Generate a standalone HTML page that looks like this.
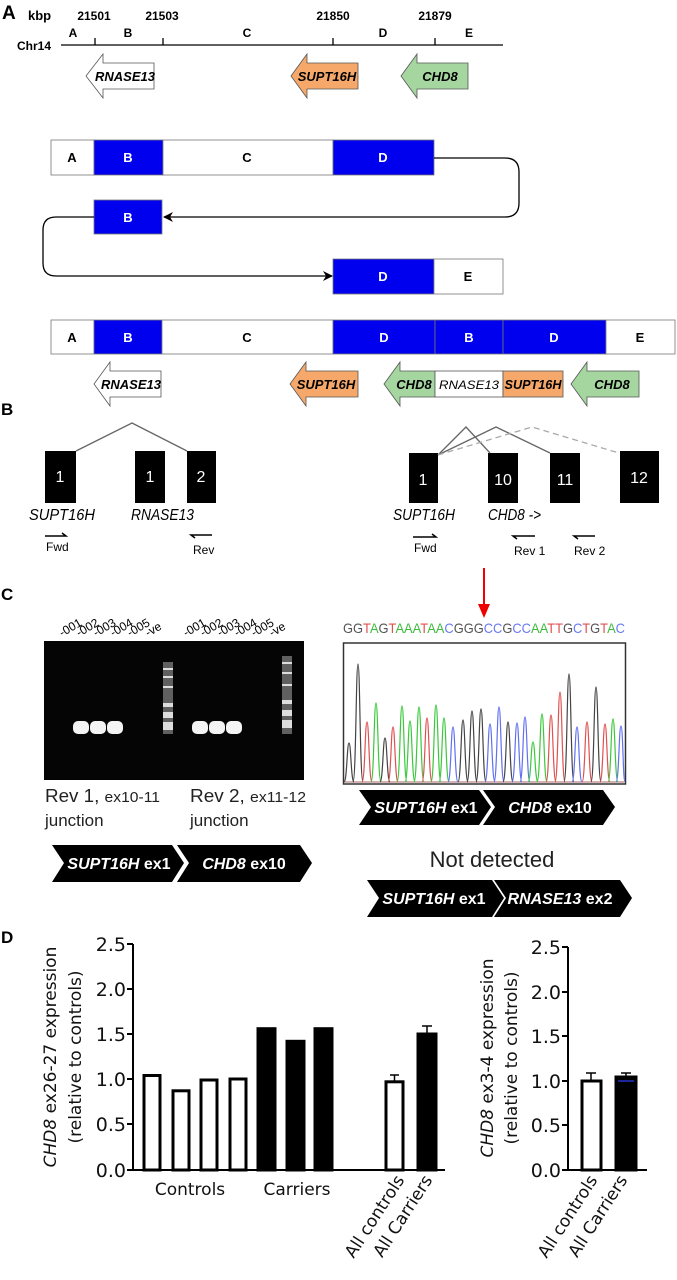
<!DOCTYPE html>
<html><head><meta charset="utf-8"><style>
html,body{margin:0;padding:0;background:#fff}
svg{display:block}
.h{font-family:"Liberation Sans",sans-serif;font-weight:bold}
.n{font-family:"Liberation Sans Narrow","Liberation Sans",sans-serif}
.d{font-family:"DejaVu Sans",sans-serif}
</style></head><body>
<svg width="677" height="1280" viewBox="0 0 677 1280" xmlns="http://www.w3.org/2000/svg">
<defs>
<marker id="ah" markerWidth="10" markerHeight="10" refX="9" refY="5" orient="auto" markerUnits="userSpaceOnUse">
<path d="M0,0 L10,5 L0,10 L3,5 Z" fill="#000"/></marker>
</defs>
<!-- Panel A -->
<text x="2" y="19" class="h" font-size="19">A</text>
<g class="h" font-size="12">
<text x="28" y="20" font-size="13">kbp</text>
<text x="94" y="20" text-anchor="middle">21501</text>
<text x="162" y="20" text-anchor="middle">21503</text>
<text x="333" y="20" text-anchor="middle">21850</text>
<text x="435" y="20" text-anchor="middle">21879</text>
<text x="73" y="37" text-anchor="middle">A</text>
<text x="128" y="37" text-anchor="middle">B</text>
<text x="247" y="37" text-anchor="middle">C</text>
<text x="383" y="37" text-anchor="middle">D</text>
<text x="469" y="37" text-anchor="middle">E</text>
<text x="17" y="50" font-size="12">Chr14</text>
</g>
<g stroke="#000" stroke-width="1.3">
<line x1="61" y1="45" x2="503" y2="45"/>
<line x1="95" y1="38" x2="95" y2="45"/><line x1="163" y1="38" x2="163" y2="45"/>
<line x1="333" y1="38" x2="333" y2="45"/><line x1="435" y1="38" x2="435" y2="45"/>
</g>
<g stroke="#555" stroke-width="0.8">
<polygon points="86,76 103,54 103,63 154,63 154,89 103,89 103,98" fill="#fff"/>
<polygon points="291,76 307,54 307,63 358,63 358,89 307,89 307,98" fill="#f5a86a"/>
<polygon points="401,76 417,54 417,63 468,63 468,89 417,89 417,98" fill="#a5d6a0"/>
</g>
<g class="h" font-size="13" font-style="italic" text-anchor="middle">
<text x="125" y="81">RNASE13</text><text x="327" y="81">SUPT16H</text><text x="440" y="81">CHD8</text>
</g>
<g stroke="#777" stroke-width="0.8">
<rect x="51" y="140" width="43" height="35" fill="#fff"/>
<rect x="94" y="140" width="69" height="35" fill="#0000ee"/>
<rect x="163" y="140" width="170" height="35" fill="#fff"/>
<rect x="333" y="140" width="101" height="35" fill="#0000ee"/>
<rect x="94" y="200" width="68" height="34" fill="#0000ee"/>
<rect x="333" y="259" width="101" height="35" fill="#0000ee"/>
<rect x="434" y="259" width="69" height="35" fill="#fff"/>
<rect x="51" y="320" width="43" height="34" fill="#fff"/>
<rect x="94" y="320" width="68" height="34" fill="#0000ee"/>
<rect x="162" y="320" width="171" height="34" fill="#fff"/>
<rect x="333" y="320" width="102" height="34" fill="#0000ee"/>
<rect x="435" y="320" width="68" height="34" fill="#0000ee"/>
<rect x="503" y="320" width="103" height="34" fill="#0000ee"/>
<rect x="606" y="320" width="69" height="34" fill="#fff"/>
</g>
<g stroke="#000" stroke-width="1.3" fill="none">
<path d="M434,158 H505 Q519,158 519,172 V203 Q519,217 505,217 H164" marker-end="url(#ah)"/>
<path d="M94,217 H56 Q43,217 43,230 V263 Q43,276 56,276 H332" marker-end="url(#ah)"/>
</g>
<g class="h" font-size="13" text-anchor="middle">
<text x="72" y="162">A</text><text x="128" y="162" fill="#fff">B</text><text x="247" y="162">C</text><text x="383" y="162" fill="#fff">D</text>
<text x="128" y="222" fill="#fff">B</text>
<text x="383" y="281" fill="#fff">D</text><text x="468" y="281">E</text>
<text x="72" y="342">A</text><text x="128" y="342" fill="#fff">B</text><text x="247" y="342">C</text><text x="384" y="342" fill="#fff">D</text><text x="469" y="342" fill="#fff">B</text><text x="554" y="342" fill="#fff">D</text><text x="640" y="342">E</text>
</g>
<g stroke="#555" stroke-width="0.8">
<polygon points="94,384 110,362 110,371 161,371 161,397 110,397 110,406" fill="#fff"/>
<polygon points="290,384 306,362 306,371 358,371 358,397 306,397 306,406" fill="#f5a86a"/>
<polygon points="384,384 400,362 400,371 435,371 435,397 400,397 400,406" fill="#a5d6a0"/>
<rect x="435" y="371" width="68" height="26" fill="#fff"/>
<rect x="503" y="371" width="60" height="26" fill="#f5a86a"/>
<polygon points="571,384 587,362 587,371 639,371 639,397 587,397 587,406" fill="#a5d6a0"/>
</g>
<g class="h" font-size="13" font-style="italic" text-anchor="middle">
<text x="131" y="389">RNASE13</text><text x="326" y="389">SUPT16H</text><text x="414" y="389">CHD8</text>
<text x="469" y="389" font-weight="normal" font-size="12" textLength="60" lengthAdjust="spacingAndGlyphs">RNASE13</text><text x="533" y="389" textLength="57" lengthAdjust="spacingAndGlyphs">SUPT16H</text><text x="612" y="389">CHD8</text>
</g>
<!-- Panel B -->
<text x="1" y="415" class="h" font-size="17">B</text>
<g fill="#000">
<rect x="45" y="451" width="31" height="52"/><rect x="135" y="451" width="30" height="52"/><rect x="187" y="451" width="29" height="52"/>
<rect x="409" y="453" width="29" height="50"/><rect x="488" y="453" width="30" height="50"/><rect x="550" y="453" width="30" height="50"/><rect x="620" y="451" width="39" height="52"/>
</g>
<g stroke="#666" stroke-width="1.3" fill="none">
<path d="M76,451 L132,423 L187,451"/>
<path d="M438,455 L466,427 L490,453"/>
<path d="M438,455 L496,427 L550,453"/>
<path d="M438,455 L532,427 L619,453" stroke="#aaa" stroke-dasharray="6,4"/>
</g>
<g class="n" fill="#fff" font-size="16" text-anchor="middle">
<text x="60" y="482">1</text><text x="150" y="482">1</text><text x="201" y="482">2</text>
<text x="423" y="485">1</text><text x="503" y="485">10</text><text x="565" y="485">11</text><text x="639" y="483">12</text>
</g>
<g class="n" font-size="16" font-style="italic" lengthAdjust="spacingAndGlyphs">
<text x="29" y="520" textLength="66" lengthAdjust="spacingAndGlyphs">SUPT16H</text><text x="131" y="520" textLength="63" lengthAdjust="spacingAndGlyphs">RNASE13</text>
<text x="393" y="520" textLength="62" lengthAdjust="spacingAndGlyphs">SUPT16H</text><text x="488" y="520" textLength="53" lengthAdjust="spacingAndGlyphs">CHD8 -&gt;</text>
</g>
<g stroke="#000" stroke-width="1.5" fill="none">
<path d="M45,536 H66 L62,533"/><path d="M212,535 H191 L195,538"/>
<path d="M413,537 H436 L432,534"/><path d="M535,536 H513 L517,539"/><path d="M595,536 H574 L578,539"/>
</g>
<g class="n" font-size="12">
<text x="46" y="551">Fwd</text><text x="193" y="554">Rev</text>
<text x="414" y="552">Fwd</text><text x="514" y="555">Rev 1</text><text x="574" y="555">Rev 2</text>
</g>
<!-- Panel C -->
<text x="1" y="600" class="h" font-size="17">C</text>
<rect x="44" y="641" width="260" height="139" fill="#050505"/>
<g fill="#f4f4f4">
<rect x="73" y="721" width="16" height="13" rx="5"/><rect x="90" y="721" width="16" height="13" rx="5"/><rect x="107" y="721" width="16" height="13" rx="5"/>
<rect x="192" y="721" width="16" height="13" rx="5"/><rect x="209" y="721" width="16" height="13" rx="5"/><rect x="226" y="721" width="16" height="13" rx="5"/>
</g>
<g fill="#888" opacity="0.7">
<rect x="163" y="662" width="10" height="72"/><rect x="282" y="656" width="10" height="78"/>
</g>
<g fill="#ddd">
<rect x="163" y="668" width="10" height="2"/><rect x="163" y="676" width="10" height="2"/><rect x="163" y="686" width="10" height="2"/><rect x="163" y="703" width="10" height="4"/><rect x="163" y="712" width="10" height="6"/><rect x="163" y="722" width="10" height="8"/>
<rect x="282" y="662" width="10" height="2"/><rect x="282" y="672" width="10" height="2"/><rect x="282" y="684" width="10" height="2"/><rect x="282" y="700" width="10" height="4"/><rect x="282" y="710" width="10" height="6"/><rect x="282" y="720" width="10" height="8"/>
</g>
<g class="n" font-size="12">
<text transform="translate(62,637) rotate(-30)">-001</text><text transform="translate(79,637) rotate(-30)">-002</text><text transform="translate(96,637) rotate(-30)">-003</text><text transform="translate(113,637) rotate(-30)">-004</text><text transform="translate(130,637) rotate(-30)">-005</text><text transform="translate(148,637) rotate(-30)">-ve</text>
<text transform="translate(186,637) rotate(-30)">-001</text><text transform="translate(203,637) rotate(-30)">-002</text><text transform="translate(220,637) rotate(-30)">-003</text><text transform="translate(237,637) rotate(-30)">-004</text><text transform="translate(254,637) rotate(-30)">-005</text><text transform="translate(272,637) rotate(-30)">-ve</text>
</g>
<g class="n" font-size="18" fill="#222">
<text x="45" y="802" textLength="115" lengthAdjust="spacingAndGlyphs">Rev 1, <tspan font-size="15">ex10-11</tspan></text>
<text x="190" y="802" textLength="116" lengthAdjust="spacingAndGlyphs">Rev 2, <tspan font-size="15">ex11-12</tspan></text>
<text x="45" y="826" font-size="17">junction</text><text x="190" y="826" font-size="17">junction</text>
</g>
<g fill="#000">
<polygon points="52,845 172,845 184,863 172,882 52,882 64,863"/>
<polygon points="177,845 300,845 312,863 300,882 177,882 189,863"/>
<polygon points="359,790 479,790 491,807 479,825 359,825 371,807"/>
<polygon points="483,790 603,790 615,807 603,825 483,825 495,807"/>
<polygon points="367,880 492,880 504,898 492,917 367,917 379,898"/>
<polygon points="494,880 620,880 632,898 620,917 494,917 506,898"/>
</g>
<g class="n" fill="#fff" font-size="16" font-weight="bold" font-style="italic" text-anchor="middle">
<text x="119" y="869">SUPT16H <tspan font-style="normal">ex1</tspan></text>
<text x="244" y="869">CHD8 <tspan font-style="normal">ex10</tspan></text>
<text x="426" y="813">SUPT16H <tspan font-style="normal">ex1</tspan></text>
<text x="550" y="813">CHD8 <tspan font-style="normal">ex10</tspan></text>
<text x="434" y="904">SUPT16H <tspan font-style="normal">ex1</tspan></text>
<text x="560" y="904">RNASE13 <tspan font-style="normal">ex2</tspan></text>
</g>
<text x="492" y="867" class="n" font-size="22" text-anchor="middle" fill="#222">Not detected</text>
<line x1="484" y1="568" x2="484" y2="606" stroke="#e00" stroke-width="2"/>
<polygon points="478,604 490,604 484,618" fill="#e00"/>
<text x="343" y="633" class="n" font-size="14" textLength="282" lengthAdjust="spacingAndGlyphs"><tspan fill="#555">GG</tspan><tspan fill="#e05050">T</tspan><tspan fill="#3cba3c">A</tspan><tspan fill="#555">G</tspan><tspan fill="#e05050">T</tspan><tspan fill="#3cba3c">AAA</tspan><tspan fill="#e05050">T</tspan><tspan fill="#3cba3c">AA</tspan><tspan fill="#6a7af0">C</tspan><tspan fill="#555">GGG</tspan><tspan fill="#6a7af0">CC</tspan><tspan fill="#555">G</tspan><tspan fill="#6a7af0">CC</tspan><tspan fill="#3cba3c">AA</tspan><tspan fill="#e05050">TT</tspan><tspan fill="#555">G</tspan><tspan fill="#6a7af0">C</tspan><tspan fill="#e05050">T</tspan><tspan fill="#555">G</tspan><tspan fill="#e05050">T</tspan><tspan fill="#3cba3c">A</tspan><tspan fill="#6a7af0">C</tspan></text>
<rect x="343.5" y="643" width="282" height="141" fill="#fff" stroke="#333" stroke-width="1.5"/>
<line x1="345" y1="782" x2="624" y2="782" stroke="#a66" stroke-width="1"/>
<!-- Panel D -->
<text x="1" y="943" class="h" font-size="17">D</text>
<g stroke="#000" stroke-width="2" fill="none">
<line x1="133" y1="944" x2="133" y2="1171"/><line x1="127" y1="1170" x2="445" y2="1170"/>
<line x1="127" y1="944" x2="133" y2="944"/><line x1="127" y1="989" x2="133" y2="989"/><line x1="127" y1="1034" x2="133" y2="1034"/><line x1="127" y1="1079" x2="133" y2="1079"/><line x1="127" y1="1124" x2="133" y2="1124"/>
<line x1="568" y1="947" x2="568" y2="1171"/><line x1="562" y1="1170" x2="647" y2="1170"/>
<line x1="562" y1="947" x2="568" y2="947"/><line x1="562" y1="992" x2="568" y2="992"/><line x1="562" y1="1036" x2="568" y2="1036"/><line x1="562" y1="1081" x2="568" y2="1081"/><line x1="562" y1="1125" x2="568" y2="1125"/>
</g>
<g stroke="#000" stroke-width="3">
<rect x="144" y="1075.5" width="16" height="94.5" fill="#fff"/>
<rect x="173" y="1090.8" width="16" height="79.2" fill="#fff"/>
<rect x="201" y="1080" width="16" height="90" fill="#fff"/>
<rect x="230" y="1079" width="16" height="91" fill="#fff"/>
<rect x="258" y="1028.7" width="17" height="141.3" fill="#000"/>
<rect x="287" y="1041.3" width="17" height="128.7" fill="#000"/>
<rect x="315" y="1028.7" width="17" height="141.3" fill="#000"/>
<rect x="386" y="1081.8" width="17" height="88.2" fill="#fff"/>
<rect x="418" y="1034" width="18" height="136" fill="#000"/>
<rect x="582" y="1081" width="19" height="89" fill="#fff"/>
<rect x="616" y="1077" width="20" height="93" fill="#000"/>
</g>
<g stroke="#000" stroke-width="1.5">
<path d="M394.5,1082 V1075 M390,1075 H399"/>
<path d="M427,1034 V1026 M422,1026 H432"/>
<path d="M591,1081 V1073 M586,1073 H596"/>
<path d="M626,1077 V1073 M621,1073 H631"/>
</g>
<line x1="618" y1="1081" x2="634" y2="1081" stroke="#2233cc" stroke-width="1.5"/>
<g class="d" font-size="19" text-anchor="end" fill="#111">
<text x="126" y="951">2.5</text><text x="126" y="996">2.0</text><text x="126" y="1041">1.5</text><text x="126" y="1086">1.0</text><text x="126" y="1131">0.5</text><text x="126" y="1177">0.0</text>
<text x="561" y="954">2.5</text><text x="561" y="999">2.0</text><text x="561" y="1043">1.5</text><text x="561" y="1088">1.0</text><text x="561" y="1132">0.5</text><text x="561" y="1177">0.0</text>
</g>
<g class="d" font-size="17" text-anchor="middle" fill="#111">
<text transform="translate(56,1057) rotate(-90)"><tspan font-style="italic">CHD8</tspan> ex26-27 expression</text>
<text transform="translate(81,1057) rotate(-90)">(relative to controls)</text>
<text transform="translate(493,1058) rotate(-90)"><tspan font-style="italic">CHD8</tspan> ex3-4 expression</text>
<text transform="translate(517,1058) rotate(-90)">(relative to controls)</text>
<text x="190" y="1195">Controls</text><text x="297" y="1195">Carriers</text>
</g>
<g class="d" font-size="17" text-anchor="end" fill="#111">
<text transform="translate(405,1180) rotate(-57)">All controls</text>
<text transform="translate(433,1180) rotate(-57)">All Carriers</text>
<text transform="translate(598,1180) rotate(-57)">All controls</text>
<text transform="translate(628,1180) rotate(-57)">All Carriers</text>
</g>
<g fill="none" stroke-width="1.2">
<path stroke="#444" d="M344,782 C347,782 347,743 349,743 C351,743 351,782 354,782"/>
<path stroke="#444" d="M353,782 C356,782 356,664 358,664 C360,664 360,782 363,782"/>
<path stroke="#e05050" d="M362,782 C365,782 365,722 367,722 C369,722 369,782 372,782"/>
<path stroke="#3cc83c" d="M371,782 C374,782 374,703 376,703 C378,703 378,782 381,782"/>
<path stroke="#444" d="M380,782 C383,782 383,738 385,738 C387,738 387,782 390,782"/>
<path stroke="#e05050" d="M388,782 C391,782 391,727 393,727 C395,727 395,782 398,782"/>
<path stroke="#3cc83c" d="M397,782 C400,782 400,706 402,706 C404,706 404,782 407,782"/>
<path stroke="#3cc83c" d="M405,782 C408,782 408,721 410,721 C412,721 412,782 415,782"/>
<path stroke="#3cc83c" d="M414,782 C417,782 417,707 419,707 C421,707 421,782 424,782"/>
<path stroke="#e05050" d="M422,782 C425,782 425,718 427,718 C429,718 429,782 432,782"/>
<path stroke="#3cc83c" d="M431,782 C434,782 434,705 436,705 C438,705 438,782 441,782"/>
<path stroke="#3cc83c" d="M439,782 C442,782 442,718 444,718 C446,718 446,782 449,782"/>
<path stroke="#6070f0" d="M448,782 C451,782 451,727 453,727 C455,727 455,782 458,782"/>
<path stroke="#444" d="M458,782 C461,782 461,720 463,720 C465,720 465,782 468,782"/>
<path stroke="#444" d="M467,782 C470,782 470,711 472,711 C474,711 474,782 477,782"/>
<path stroke="#444" d="M476,782 C479,782 479,709 481,709 C483,709 483,782 486,782"/>
<path stroke="#6070f0" d="M485,782 C488,782 488,724 490,724 C492,724 492,782 495,782"/>
<path stroke="#6070f0" d="M494,782 C497,782 497,707 499,707 C501,707 501,782 504,782"/>
<path stroke="#444" d="M503,782 C506,782 506,722 508,722 C510,722 510,782 513,782"/>
<path stroke="#6070f0" d="M512,782 C515,782 515,723 517,723 C519,723 519,782 522,782"/>
<path stroke="#6070f0" d="M520,782 C523,782 523,717 525,717 C527,717 527,782 530,782"/>
<path stroke="#3cc83c" d="M528,782 C531,782 531,742 533,742 C535,742 535,782 538,782"/>
<path stroke="#3cc83c" d="M537,782 C540,782 540,714 542,714 C544,714 544,782 547,782"/>
<path stroke="#e05050" d="M546,782 C549,782 549,715 551,715 C553,715 553,782 556,782"/>
<path stroke="#e05050" d="M555,782 C558,782 558,692 560,692 C562,692 562,782 565,782"/>
<path stroke="#444" d="M564,782 C567,782 567,674 569,674 C571,674 571,782 574,782"/>
<path stroke="#6070f0" d="M572,782 C575,782 575,727 577,727 C579,727 579,782 582,782"/>
<path stroke="#e05050" d="M582,782 C585,782 585,722 587,722 C589,722 589,782 592,782"/>
<path stroke="#444" d="M591,782 C594,782 594,687 596,687 C598,687 598,782 601,782"/>
<path stroke="#e05050" d="M600,782 C603,782 603,724 605,724 C607,724 607,782 610,782"/>
<path stroke="#3cc83c" d="M608,782 C611,782 611,719 613,719 C615,719 615,782 618,782"/>
<path stroke="#6070f0" d="M616,782 C619,782 619,726 621,726 C623,726 623,782 625,782"/>
</g>
</svg>
</body></html>
